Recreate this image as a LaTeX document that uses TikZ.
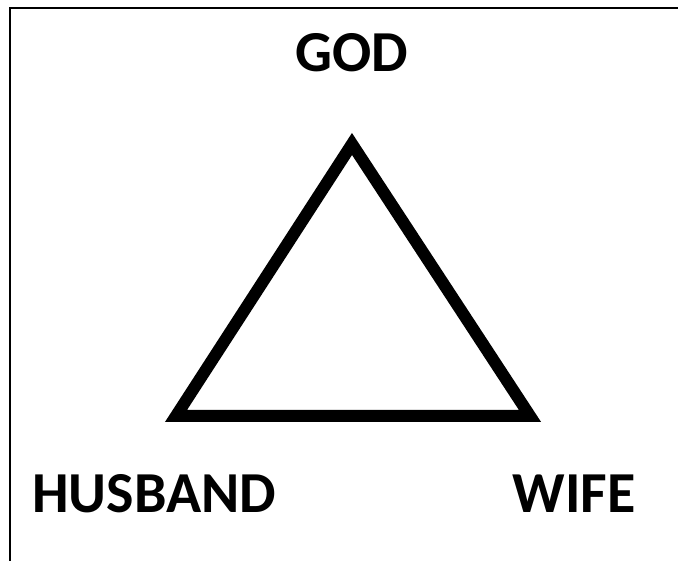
\documentclass[tikz,border=0pt]{standalone}
\usepackage{fontspec}
\setmainfont{Carlito}
\begin{document}
\begin{tikzpicture}[x=1pt,y=1pt,
  lbl/.style={font=\fontsize{58}{66}\selectfont\bfseries, inner sep=0pt, anchor=base}]
\useasboundingbox (0,0) rectangle (678,561);
\coordinate (bl) at (10,0);
\coordinate (tl) at (10,553);
\coordinate (tr) at (678,553);
\draw[line width=1.6pt] (bl) -- (tl) -- (tr);
\coordinate (apex) at (352,417);
\coordinate (left) at (176,145);
\coordinate (right) at (530,145);
\draw[line width=12pt, miter limit=10] (apex) -- (left) -- (right) -- cycle;
\node[lbl] (god) at (352,489) {GOD};
\node[lbl] (husband) at (154,48) {HUSBAND};
\node[lbl] (wife) at (574,48) {WIFE};
\end{tikzpicture}
\end{document}
